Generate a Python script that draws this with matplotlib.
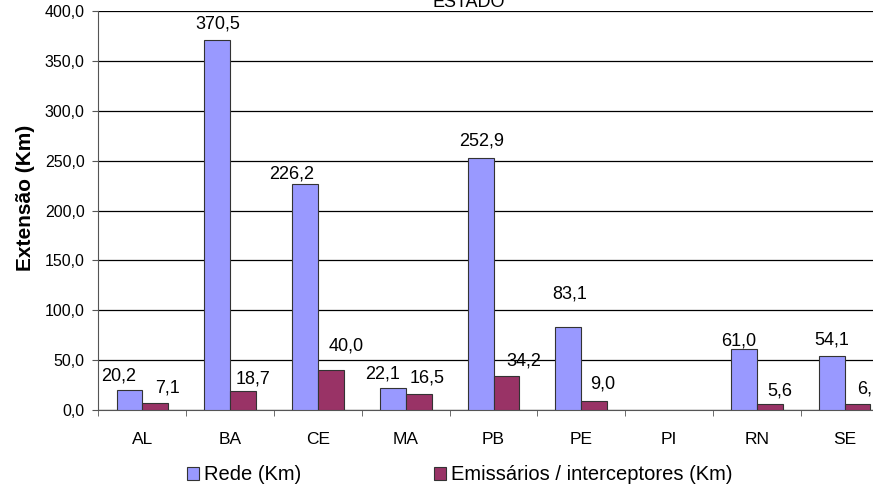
import numpy as np
import matplotlib
matplotlib.use('Agg')
import matplotlib.pyplot as plt
from matplotlib.patches import Patch

plt.rcParams['font.family'] = ['Liberation Sans', 'DejaVu Sans']

estados = ['AL', 'BA', 'CE', 'MA', 'PB', 'PE', 'PI', 'RN', 'SE']
rede = [20.2, 370.5, 226.2, 22.1, 252.9, 83.1, np.nan, 61.0, 54.1]
emissarios = [7.1, 18.7, 40.0, 16.5, 34.2, 9.0, np.nan, 5.6, 6.1]
yticks = [0, 50, 100, 150, 200, 250, 300, 350, 400]

# label offsets (pixels) from bar top centre, as placed in the original
off_rede = [(-11, 14), (1, 16), (-13, 10), (-10, 14), (1, 17), (1, 33), (0, 0), (-5, 8), (0, 16)]
off_emis = [(12, 15), (10, 12), (15, 24), (8, 16), (17, 15), (8, 17), (0, 0), (10, 13), (12, 15)]

blue = '#9999FF'
wine = '#993366'

fig = plt.figure(figsize=(8.73, 4.88), dpi=100)
ax = fig.add_axes([0.1128, 0.1598, 0.905, 0.8176])

x = np.arange(len(estados))
w = 0.294
b1 = ax.bar(x - w / 2, rede, w, color=blue, edgecolor='#333333', linewidth=0.8, zorder=3)
b2 = ax.bar(x + w / 2, emissarios, w, color=wine, edgecolor='#333333', linewidth=0.8, zorder=3)

def fmt(v):
    return '{:.1f}'.format(v).replace('.', ',')

for bars, vals, offs in [(b1, rede, off_rede), (b2, emissarios, off_emis)]:
    for bar, v, (dx, dy) in zip(bars, vals, offs):
        if np.isnan(v):
            continue
        ax.annotate(fmt(v), (bar.get_x() + bar.get_width() / 2, v),
                    xytext=(dx, dy), textcoords='offset pixels',
                    ha='center', va='center', fontsize=13, color='black',
                    annotation_clip=False)

ax.set_xlim(-0.5, len(estados) - 0.5)
ax.set_ylim(0, 400)
ax.set_yticks(yticks)
ax.set_yticklabels([fmt(t) for t in yticks], fontsize=11.5)
ax.yaxis.grid(True, color='black', linewidth=0.9, zorder=0)
ax.set_axisbelow(True)

ax.set_xticks(x)
ax.set_xticklabels(estados, fontsize=12.5)
ax.set_xticks(np.arange(len(estados) + 1) - 0.5, minor=True)
ax.tick_params(axis='x', which='major', length=0, pad=16)
ax.tick_params(axis='x', which='minor', length=4, direction='out', color='#555555')
ax.tick_params(axis='y', length=4, direction='out', color='#555555', pad=6)

for s in ['top', 'right']:
    ax.spines[s].set_visible(False)
ax.spines['left'].set_color('#555555')
ax.spines['bottom'].set_color('#555555')

ax.set_ylabel('Extensão (Km)', fontsize=15, fontweight='bold')
ax.yaxis.set_label_coords(-0.08, 0.531)

fig.text(469 / 873, 1 - 7 / 488, 'ESTADO', ha='center', va='baseline', fontsize=13)

handles = [Patch(facecolor=blue, edgecolor='#333333', linewidth=0.8),
           Patch(facecolor=wine, edgecolor='#333333', linewidth=0.8)]
fig.legend(handles, ['Rede (Km)', 'Emissários / interceptores (Km)'],
           loc='center left', bbox_to_anchor=(187 / 873, 1 - 475 / 488),
           ncol=2, frameon=False, fontsize=14.5, borderpad=0, borderaxespad=0,
           handlelength=0.6, handleheight=0.6, handletextpad=0.25,
           columnspacing=6.6)

fig.savefig('out.png', dpi=100)
